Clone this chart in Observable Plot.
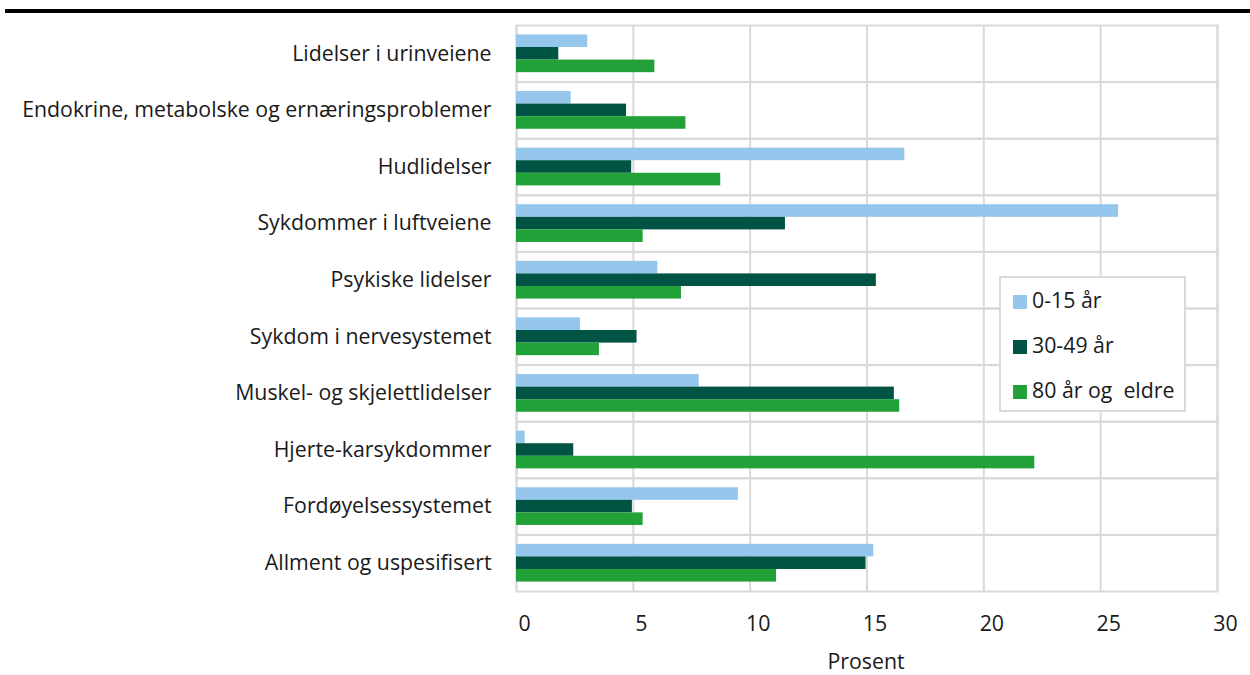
<!DOCTYPE html>
<html>
<head>
<meta charset="utf-8">
<script src="https://cdn.jsdelivr.net/npm/d3@7"></script>
<script src="https://cdn.jsdelivr.net/npm/@observablehq/plot@0.6"></script>
<style>
  body { margin: 0; background: #fff; font-family: "Open Sans", sans-serif; }
  #wrap { position: relative; width: 1250px; height: 675px; }
  #topline { position: absolute; left: 5px; right: 0; top: 9px; height: 4px; background: #000; }
  #legend { position: absolute; left: 999px; top: 276px; width: 183px; height: 132px; border: 2px solid #d9d9d9; background: #fff; }
  .item { position: absolute; left: 12px; font-size: 21.3px; color: #1a1a1a; line-height: 21px; white-space: pre; }
  .sw { display: inline-block; width: 14px; height: 14px; margin-right: 5px; vertical-align: -1px; }
  #xlabel { position: absolute; left: 766px; width: 200px; text-align: center; top: 646px; font-size: 21.3px; color: #1a1a1a; }
</style>
</head>
<body>
<div id="wrap">
  <div id="chart"></div>
  <div id="topline"></div>
  <div id="legend"></div>
  <div id="xlabel">Prosent</div>
</div>
<script>
const categories = [
  "Lidelser i urinveiene",
  "Endokrine, metabolske og ernæringsproblemer",
  "Hudlidelser",
  "Sykdommer i luftveiene",
  "Psykiske lidelser",
  "Sykdom i nervesystemet",
  "Muskel- og skjelettlidelser",
  "Hjerte-karsykdommer",
  "Fordøyelsessystemet",
  "Allment og uspesifisert"
];
const series = ["0-15 år", "30-49 år", "80 år og  eldre"];
const colors = ["#95c6eb", "#015443", "#22a139"];
const v0_15  = [3.05, 2.34, 16.62, 25.77, 6.05, 2.74, 7.82, 0.37, 9.50, 15.29];
const v30_49 = [1.81, 4.71, 4.93, 11.51, 15.40, 5.16, 16.17, 2.45, 4.96, 14.96];
const v80    = [5.92, 7.25, 8.74, 5.42, 7.06, 3.55, 16.40, 22.18, 5.42, 11.13];
const xTicks = [0, 5, 10, 15, 20, 25, 30];

const values = [v0_15, v30_49, v80];
const rows = [];
categories.forEach((c, i) => {
  series.forEach((s, j) => rows.push({category: c, series: s, value: values[j][i]}));
});

const chart = Plot.plot({
  width: 1250,
  height: 675,
  marginLeft: 516,
  marginRight: 33,
  marginTop: 25,
  marginBottom: 84,
  style: {fontFamily: "Open Sans", fontSize: "21.3px", color: "#1a1a1a", background: "#fff"},
  x: {domain: [0, 30], ticks: xTicks, tickSize: 0, tickPadding: 24, label: null, tickFormat: d => String(d)},
  y: {domain: series, paddingInner: 0, paddingOuter: 0.75, axis: null, round: false},
  fy: {domain: categories, padding: 0, round: false, axis: "left", tickSize: 0, tickPadding: 25, label: null},
  color: {domain: series, range: colors},
  marks: [
    Plot.ruleX(xTicks, {x: d => d, stroke: "#d9d9d9", strokeWidth: 2, strokeOpacity: 1}),
    Plot.frame({stroke: "#d9d9d9", strokeWidth: 2}),
    Plot.barX(rows, {x: "value", y: "series", fy: "category", fill: "series"})
  ]
});
document.getElementById("chart").appendChild(chart);
// shift x tick labels slightly right like the reference
chart.querySelectorAll("g[aria-label='x-axis tick label'] text, g[aria-label='x-axis'] text").forEach(t => t.setAttribute("dx", "8"));

const legend = document.getElementById("legend");
series.forEach((s, j) => {
  const d = document.createElement("div");
  d.className = "item";
  d.style.top = (11 + j * 45) + "px";
  d.innerHTML = `<span class="sw" style="background:${colors[j]}"></span>${s}`;
  legend.appendChild(d);
});
</script>
</body>
</html>
